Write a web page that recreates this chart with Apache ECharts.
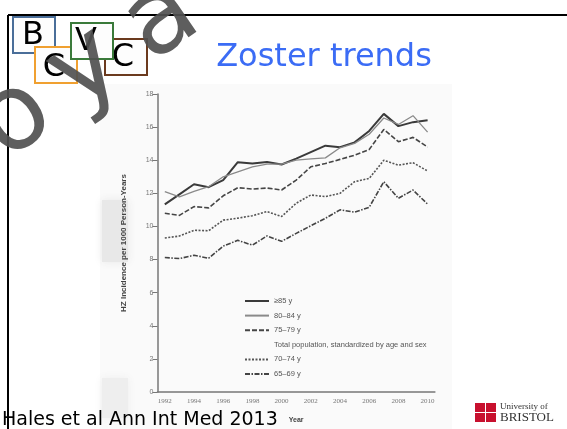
<!DOCTYPE html>
<html>
<head>
<meta charset="utf-8">
<script src="https://cdn.jsdelivr.net/npm/echarts@6/dist/echarts.min.js"></script>
<style>
  html, body { margin: 0; padding: 0; background: #fff; }
  #chart { width: 567px; height: 429px; }
</style>
</head>
<body>
<div id="chart"></div>
<script>
// ─── Data ───────────────────────────────────────────────
const years = ['1992','1993','1994','1995','1996','1997','1998','1999','2000','2001',
               '2002','2003','2004','2005','2006','2007','2008','2009','2010'];
const yTicks = [0, 18, 2];   // min, max, step

const age85 = [11.33, 11.94, 12.55, 12.37, 12.8, 13.88, 13.8, 13.89, 13.74, 14.1,
               14.49, 14.88, 14.79, 15.08, 15.77, 16.8, 16.06, 16.3, 16.41];
const age80 = [12.1, 11.78, 12.12, 12.4, 13.0, 13.3, 13.6, 13.76, 13.76, 14.0,
               14.08, 14.14, 14.75, 15.02, 15.57, 16.55, 16.16, 16.69, 15.7];
const age75 = [10.8, 10.67, 11.2, 11.12, 11.85, 12.34, 12.26, 12.32, 12.2, 12.8,
               13.6, 13.8, 14.05, 14.3, 14.65, 15.86, 15.12, 15.38, 14.8];
const totalPop = [];
const age70 = [9.3, 9.42, 9.77, 9.74, 10.38, 10.5, 10.65, 10.9, 10.6, 11.4,
               11.9, 11.8, 12.0, 12.7, 12.9, 14.0, 13.7, 13.85, 13.35];
const age65 = [8.12, 8.06, 8.26, 8.08, 8.81, 9.16, 8.87, 9.43, 9.1, 9.58,
               10.04, 10.49, 11.0, 10.86, 11.16, 12.7, 11.7, 12.2, 11.35];

const seriesNames = ['≥85 y', '80–84 y', '75–79 y',
  'Total population, standardized by age and sex', '70–74 y', '65–69 y'];

// ─── Chart ──────────────────────────────────────────────
const chart = echarts.init(document.getElementById('chart'));

function lineSeries(name, data, color, width, type) {
  return {
    name, type: 'line', data,
    symbol: 'none', silent: true, animation: false,
    lineStyle: { color, width, type },
    itemStyle: { color }
  };
}

const logoBox = (x, y, color) => ({
  type: 'rect', shape: { x, y, width: 42, height: 36 },
  style: { fill: '#fdfdfd', stroke: color, lineWidth: 2 }
});
const logoLetter = (x, y, text) => ({
  type: 'text', x, y,
  style: { text, fill: '#000', font: '32px "DejaVu Sans"', textAlign: 'center', textVerticalAlign: 'middle' }
});
// watermark glyphs, tilted along the diagonal
const markLetter = (x, y, text) => ({
  type: 'text', x, y, rotation: 0.6, z: 100,
  style: { text, fill: 'rgba(80,80,80,0.92)', font: '106px "DejaVu Sans"', textAlign: 'center', textVerticalAlign: 'middle' }
});

chart.setOption({
  backgroundColor: '#fff',
  animation: false,
  grid: { left: 157.5, top: 94, width: 277.4, height: 306 },
  legend: {
    orient: 'vertical', left: 239, top: 291,
    itemWidth: 24, itemHeight: 10, itemGap: 4.6,
    selectedMode: false,
    itemStyle: { opacity: 0 },
    textStyle: { fontSize: 7.5, color: '#555', fontFamily: 'Liberation Sans', lineHeight: 10 },
    data: seriesNames
  },
  xAxis: {
    type: 'category', data: years, boundaryGap: true,
    name: 'Year', nameLocation: 'middle', nameGap: 25,
    nameTextStyle: { fontSize: 7, fontWeight: 'bold', color: '#444', fontFamily: 'Liberation Sans' },
    axisLine: { lineStyle: { color: '#777', width: 1.5 } },
    axisTick: { interval: 0, length: 4, lineStyle: { color: '#777' } },
    axisLabel: { interval: 1, fontSize: 7, color: '#777', margin: 6, fontFamily: 'Liberation Serif' },
    splitLine: { show: false }
  },
  yAxis: {
    type: 'value', min: yTicks[0], max: yTicks[1], interval: yTicks[2],
    name: 'HZ Incidence per 1000 Person-Years', nameLocation: 'middle', nameGap: 30,
    nameTextStyle: { fontSize: 8, fontWeight: 'bold', color: '#444', fontFamily: 'Liberation Sans' },
    axisLine: { show: true, lineStyle: { color: '#777', width: 1.5 } },
    axisTick: { show: true, length: 5, lineStyle: { color: '#777' } },
    axisLabel: { fontSize: 7, color: '#777', margin: 4, fontFamily: 'Liberation Sans' },
    splitLine: { show: false }
  },
  series: [
    lineSeries(seriesNames[0], age85, '#3a3a3a', 2, 'solid'),
    lineSeries(seriesNames[1], age80, '#8a8a8a', 1.3, 'solid'),
    lineSeries(seriesNames[2], age75, '#454545', 1.6, [5, 2]),
    lineSeries(seriesNames[3], totalPop, 'rgba(0,0,0,0)', 1, 'solid'),
    lineSeries(seriesNames[4], age70, '#555', 1.6, [2, 1.5]),
    lineSeries(seriesNames[5], age65, '#444', 1.6, [5, 1.5, 1.5, 1.5])
  ],
  graphic: [
    // faint scan background behind the figure
    { type: 'rect', z: -10, shape: { x: 100, y: 84, width: 352, height: 345 }, style: { fill: '#fafafa' } },
    { type: 'rect', z: -9, shape: { x: 102, y: 200, width: 26, height: 62 },
      style: { fill: '#e8e8e8', shadowBlur: 8, shadowColor: '#e8e8e8' } },
    { type: 'rect', z: -9, shape: { x: 102, y: 378, width: 26, height: 40 },
      style: { fill: '#eeeeee', shadowBlur: 8, shadowColor: '#eeeeee' } },
    // slide frame
    { type: 'line', shape: { x1: 8, y1: 15, x2: 567, y2: 15 }, style: { stroke: '#000', lineWidth: 2 } },
    { type: 'line', shape: { x1: 8, y1: 15, x2: 8, y2: 429 }, style: { stroke: '#000', lineWidth: 2 } },
    // BCVC logo
    logoBox(13, 17, '#4a6e99'),
    logoLetter(33, 36, 'B'),
    logoBox(35, 47, '#f0a030'),
    logoLetter(54, 68, 'C'),
    logoBox(105, 39, '#6b3a1e'),
    logoLetter(123, 58, 'C'),
    logoBox(71, 23, '#3a7a3a'),
    logoLetter(86, 42, 'V'),
    // title
    { type: 'text', x: 324, y: 58,
      style: { text: 'Zoster trends', fill: '#3b6cf5', font: '32px "DejaVu Sans"', textAlign: 'center', textVerticalAlign: 'middle' } },
    // citation
    { type: 'text', x: 2, y: 420,
      style: { text: 'Hales et al Ann Int Med 2013', fill: '#000', font: '19px "DejaVu Sans"', textVerticalAlign: 'middle' } },
    // Bristol logo
    { type: 'rect', shape: { x: 475, y: 403, width: 10, height: 9 }, style: { fill: '#c8102e' } },
    { type: 'rect', shape: { x: 486, y: 403, width: 10, height: 9 }, style: { fill: '#c8102e' } },
    { type: 'rect', shape: { x: 475, y: 413, width: 10, height: 9 }, style: { fill: '#c8102e' } },
    { type: 'rect', shape: { x: 486, y: 413, width: 10, height: 9 }, style: { fill: '#c8102e' } },
    { type: 'text', x: 500, y: 407,
      style: { text: 'University of', fill: '#333', font: '9px "Liberation Serif"', textVerticalAlign: 'middle' } },
    { type: 'text', x: 500, y: 418,
      style: { text: 'BRISTOL', fill: '#333', font: '13px "Liberation Serif"', textVerticalAlign: 'middle' } },
    // watermark
    markLetter(16, 120, 'o'),
    markLetter(86, 70, 'y'),
    markLetter(162, 22, 'a'),
    markLetter(240, -28, 'l')
  ]
});

window.addEventListener('resize', () => chart.resize());
</script>
</body>
</html>
